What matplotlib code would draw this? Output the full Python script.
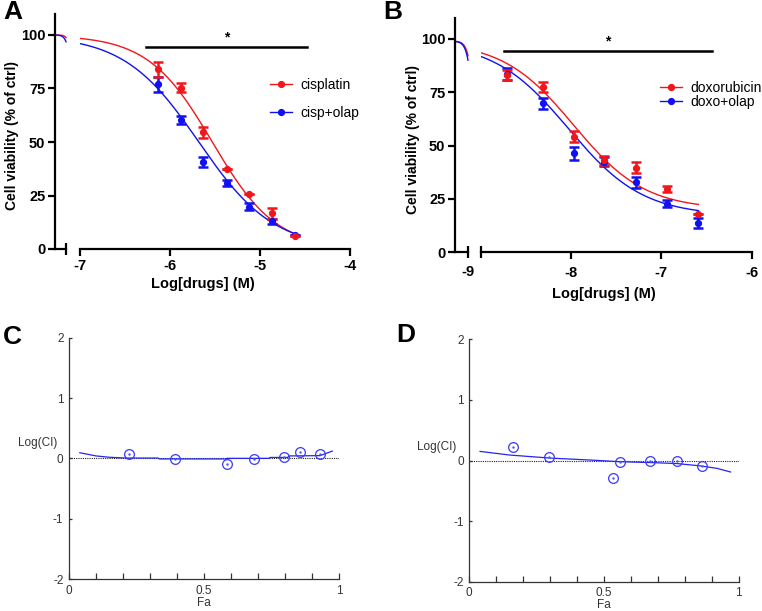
import matplotlib
matplotlib.use("Agg")
import matplotlib.pyplot as plt
import numpy as np
from matplotlib.lines import Line2D
from matplotlib.ticker import MultipleLocator

plt.rcParams['font.family'] = ['Liberation Sans', 'DejaVu Sans']
plt.rcParams['axes.unicode_minus'] = False

RED = '#f2161b'
BLUE = '#1010f0'

# ---- panel A: cisplatin +/- olaparib ----
a_logx = [-6.13, -5.88, -5.63, -5.37, -5.12, -4.87, -4.61]
a_cis = [83.9, 75.4, 54.6, 37.3, 25.9, 16.6, 6.0]
a_cis_err = [3.5, 2.2, 2.6, 0.0, 0.0, 2.6, 0.0]
a_comb = [76.9, 60.2, 40.8, 30.9, 19.8, 13.0, 6.7]
a_comb_err = [3.6, 2.0, 2.4, 1.5, 1.6, 1.2, 0.0]
# fitted 4PL parameters (top, bottom, logIC50, hill)
a_cis_fit = (100.0, 0.0, -5.53, 1.22)
a_comb_fit = (100.0, 0.0, -5.68, 1.045)
a_sig = (-6.27, -4.48, 94.5)

# ---- panel B: doxorubicin +/- olaparib ----
b_logx = [-8.71, -8.31, -7.97, -7.63, -7.28, -6.94, -6.59]
b_dox = [83.1, 77.3, 54.2, 43.0, 39.6, 29.5, 17.8]
b_dox_err = [2.4, 2.4, 2.6, 2.0, 2.5, 1.5, 0.0]
b_comb = [83.6, 69.8, 46.4, 42.4, 32.7, 22.7, 13.6]
b_comb_err = [2.8, 2.6, 3.0, 2.0, 2.5, 1.5, 2.4]
b_dox_fit = (99.0, 20.0, -7.97, 1.1)
b_comb_fit = (99.0, 17.0, -8.03, 1.05)
b_sig = (-8.745, -6.44, 94.5)

# ---- panel C / D: combination index plots ----
c_fa = [0.223, 0.393, 0.587, 0.685, 0.797, 0.857, 0.928]
c_ci = [0.076, -0.007, -0.100, -0.012, 0.017, 0.104, 0.071]
c_line_fa = [0.04, 0.10, 0.15, 0.21, 0.33, 0.335, 0.58, 0.585, 0.74, 0.745, 0.81, 0.815, 0.93, 0.975]
c_line_ci = [0.093, 0.04, 0.018, 0.005, 0.005, -0.01, -0.01, 0.0, 0.0, 0.015, 0.015, 0.04, 0.045, 0.12]

d_fa = [0.163, 0.297, 0.533, 0.561, 0.670, 0.771, 0.863]
d_ci = [0.224, 0.059, -0.287, -0.023, -0.007, -0.007, -0.094]
d_line_fa = [0.04, 0.15, 0.30, 0.46, 0.56, 0.68, 0.77, 0.86, 0.92, 0.97]
d_line_ci = [0.15, 0.09, 0.04, 0.005, -0.02, -0.035, -0.05, -0.09, -0.13, -0.19]


def hill(x, p):
    top, bottom, c, h = p
    return bottom + (top - bottom) / (1 + 10 ** ((x - c) * h))


def px(x0, y0, w, h):
    # pixel box (left, top, width, height) -> figure fraction
    return [x0 / 762, 1 - (y0 + h) / 611, w / 762, h / 611]


def dose_panel(fig, main_box, left_box, xlim, left_xlim, logx, s1, e1, s2, e2,
               f1, f2, sig, names, xticks, left_label, leg_pos, leg_space, xpad):
    axl = fig.add_axes(px(*left_box))
    ax = fig.add_axes(px(*main_box))
    for a in (axl, ax):
        a.set_ylim(0, 110)
        a.spines['top'].set_visible(False)
        a.spines['right'].set_visible(False)
        for s in a.spines.values():
            s.set_linewidth(1.6)
        a.patch.set_alpha(0)
    ax.spines['left'].set_visible(False)
    ax.set_yticks([])
    axl.set_xlim(*left_xlim)
    axl.set_yticks([0, 25, 50, 75, 100])
    axl.set_xticks([left_xlim[1]])
    axl.set_xticklabels([left_label])
    axl.tick_params(axis='x', direction='inout', length=9, width=1.6, pad=xpad)
    axl.tick_params(axis='y', direction='out', length=5, width=1.6, pad=2)
    for t in axl.get_yticklabels() + axl.get_xticklabels():
        t.set_fontweight('bold')
        t.set_fontsize(10.5)

    ax.set_xlim(*xlim)
    ax.set_xticks(xticks)
    ax.set_xticks([xlim[0]], minor=True)
    ax.tick_params(axis='x', which='major', direction='out', length=5, width=1.6, pad=xpad)
    ax.tick_params(axis='x', which='minor', direction='inout', length=9, width=1.6)
    for t in ax.get_xticklabels():
        t.set_fontweight('bold')
        t.set_fontsize(10.5)

    # curves on the short segment and on the main axis
    xs_l = np.linspace(left_xlim[0], left_xlim[1], 60)
    axl.plot(xs_l, hill(xs_l, f1), color=RED, lw=1.0, clip_on=False)
    axl.plot(xs_l, hill(xs_l, f2), color=BLUE, lw=1.0, clip_on=False)
    xs = np.linspace(xlim[0], logx[-1], 200)
    ax.plot(xs, hill(xs, f1), color=RED, lw=1.0)
    ax.plot(xs, hill(xs, f2), color=BLUE, lw=1.0)

    ax.errorbar(logx, s2, yerr=e2, fmt='o', color=BLUE, ms=4.2, capsize=3.5,
                elinewidth=1.8, capthick=1.8, clip_on=False)
    ax.errorbar(logx, s1, yerr=e1, fmt='o', color=RED, ms=4.2, capsize=3.5,
                elinewidth=1.8, capthick=1.8, clip_on=False)

    ax.plot([sig[0], sig[1]], [sig[2], sig[2]], color='black', lw=1.8)
    ax.text((sig[0] + sig[1]) / 2, sig[2] + 1.0, '*', ha='center', va='bottom',
            fontsize=10, fontweight='bold')

    handles = [Line2D([], [], color=RED, lw=1.0, marker='o', ms=4.2),
               Line2D([], [], color=BLUE, lw=1.0, marker='o', ms=4.2)]
    ax.legend(handles, names, loc='upper left', frameon=False, fontsize=10,
              bbox_to_anchor=(leg_pos[0] / 762, 1 - leg_pos[1] / 611),
              bbox_transform=fig.transFigure, borderpad=0, borderaxespad=0,
              handlelength=1.6, handletextpad=0.6, labelspacing=leg_space)
    return ax, axl


def ci_panel(fig, box, fa, ci, lfa, lci, lab_xy):
    ax = fig.add_axes(px(*box))
    ax.set_xlim(0, 1)
    ax.set_ylim(-2, 2)
    ax.spines['top'].set_visible(False)
    ax.spines['right'].set_visible(False)
    for s in ax.spines.values():
        s.set_linewidth(0.9)
        s.set_color('#333333')
    ax.set_xticks([0, 0.5, 1])
    ax.set_xticklabels(['0', '0.5', '1'])
    ax.xaxis.set_minor_locator(MultipleLocator(0.1))
    ax.set_yticks([-2, -1, 0, 1, 2])
    ax.tick_params(axis='x', which='both', direction='in', length=4, width=0.9,
                   color='#333333', labelsize=8.5, labelcolor='#333333', pad=4)
    ax.tick_params(axis='y', direction='in', length=2.5, width=0.9,
                   color='#333333', labelsize=8.5, labelcolor='#333333', pad=4)
    ax.axhline(0, color='#222222', ls=(0, (1, 1)), lw=0.8)
    ax.plot(lfa, lci, color='#2424ee', lw=0.9)
    ax.plot(fa, ci, 'o', mfc='none', mec='#3a3aff', ms=7, mew=0.9)
    ax.plot(fa, ci, '.', color='#5555ff', ms=1.5)
    ax.set_xlabel('Fa', fontsize=8.5, color='#333333')
    ax.text(lab_xy[0], lab_xy[1], 'Log(CI)', fontsize=8.5, color='#333333',
            ha='center', va='center')
    return ax


fig = plt.figure(figsize=(7.62, 6.11), dpi=100)

axA, axAl = dose_panel(fig, (80, 13.6, 270, 235.4), (55, 13.6, 11, 235.4), (-7, -4), (-9.0, -7.1),
                       a_logx, a_cis, a_cis_err, a_comb, a_comb_err, a_cis_fit, a_comb_fit,
                       a_sig, ['cisplatin', 'cisp+olap'], [-7, -6, -5, -4], '',
                       (270, 78), 1.0, 2)
axAl.set_ylabel('Cell viability (% of ctrl)', fontsize=10, fontweight='bold')
axAl.yaxis.set_label_coords(19 / 762, 1 - 136 / 611, transform=fig.transFigure)
axA.set_xlabel('Log[drugs] (M)', fontsize=10.5, fontweight='bold')
axA.xaxis.set_label_coords(203 / 762, 1 - 277 / 611, transform=fig.transFigure)

axB, axBl = dose_panel(fig, (480.7, 17.7, 271, 234.3), (455, 17.7, 13, 234.3), (-9, -6), (-10.6, -8.9),
                       b_logx, b_dox, b_dox_err, b_comb, b_comb_err, b_dox_fit, b_comb_fit,
                       b_sig, ['doxorubicin', 'doxo+olap'], [-8, -7, -6], '-9',
                       (660, 81), 0.0, 5)
axBl.set_ylabel('Cell viability (% of ctrl)', fontsize=10, fontweight='bold')
axBl.yaxis.set_label_coords(420 / 762, 1 - 139 / 611, transform=fig.transFigure)
axB.set_xlabel('Log[drugs] (M)', fontsize=10.5, fontweight='bold')
axB.xaxis.set_label_coords(604 / 762, 1 - 287 / 611, transform=fig.transFigure)

axC = ci_panel(fig, (69, 337.7, 270, 241.3), c_fa, c_ci, c_line_fa, c_line_ci, (-0.117, 0.25))
axC.xaxis.set_label_coords(204 / 762, 1 - 597 / 611, transform=fig.transFigure)
axD = ci_panel(fig, (469.3, 339.3, 269.4, 242.4), d_fa, d_ci, d_line_fa, d_line_ci, (-0.12, 0.22))
axD.xaxis.set_label_coords(604 / 762, 1 - 599 / 611, transform=fig.transFigure)

for lab, x, y in [('A', 3, 0), ('B', 383, 0), ('C', 3, 325), ('D', 396, 323)]:
    fig.text(x / 762, 1 - y / 611, lab, fontsize=19, fontweight='bold', ha='left', va='top')

fig.savefig('out.png', dpi=100)
